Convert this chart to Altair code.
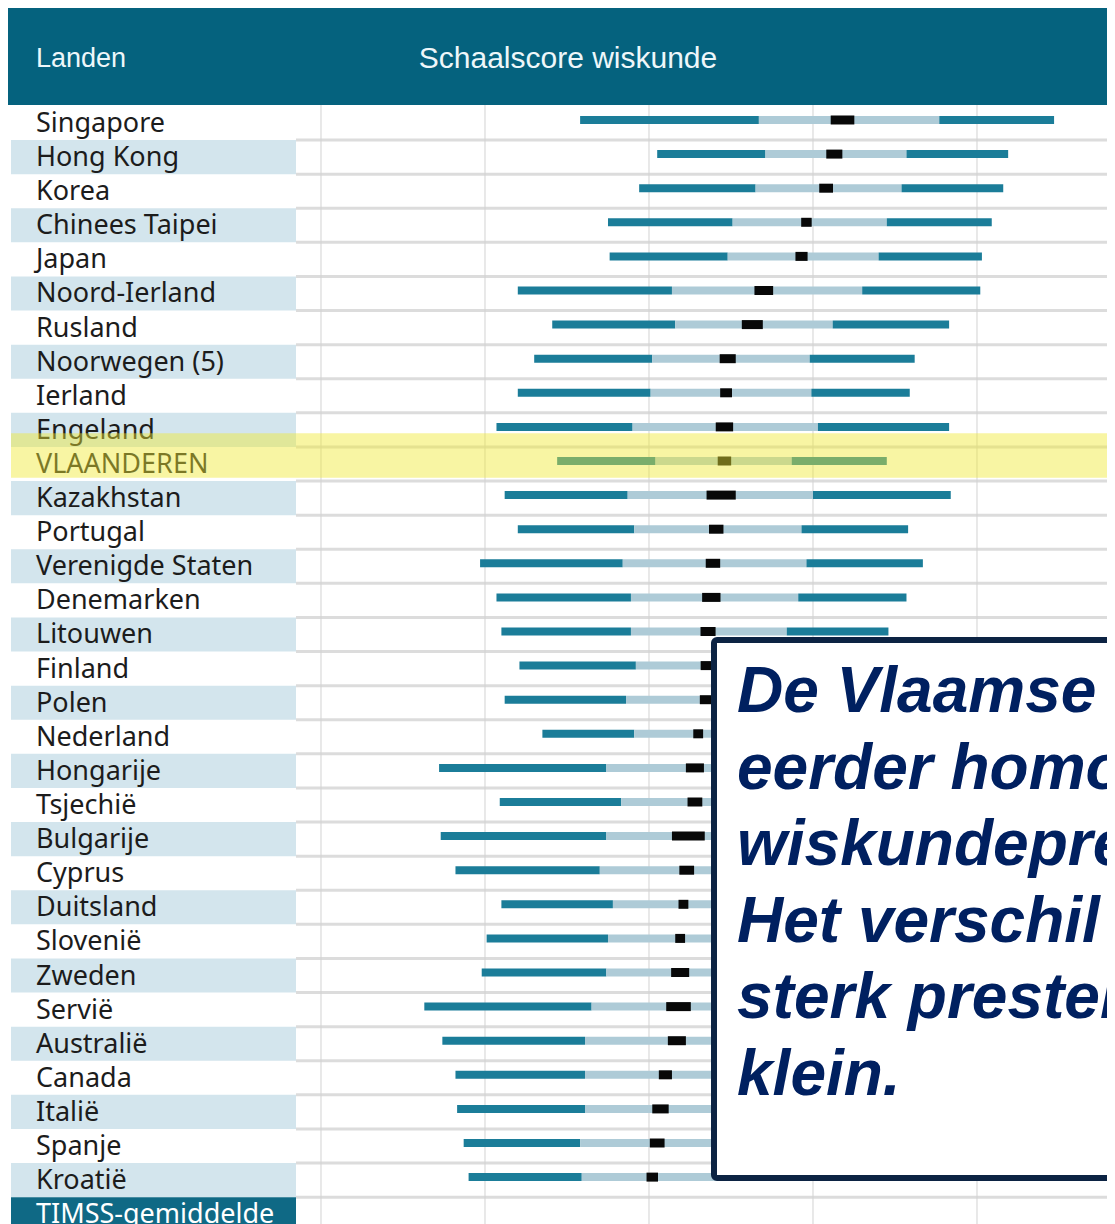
import altair as alt
import pandas as pd

# ---------------- data ----------------
countries = ["Singapore", "Hong Kong", "Korea", "Chinees Taipei", "Japan",
             "Noord-Ierland", "Rusland", "Noorwegen (5)", "Ierland", "Engeland",
             "VLAANDEREN", "Kazakhstan", "Portugal", "Verenigde Staten",
             "Denemarken", "Litouwen", "Finland", "Polen", "Nederland",
             "Hongarije", "Tsjechië", "Bulgarije", "Cyprus", "Duitsland",
             "Slovenië", "Zweden", "Servië", "Australië", "Canada", "Italië",
             "Spanje", "Kroatië", "TIMSS-gemiddelde"]

# percentiles 5 / 25 / 75 / 95, mean and half-width of its confidence interval
p5 = [458, 505, 494, 475, 476, 420, 441, 430, 420, 407, 444, 412, 420, 397,
      407, 410, 421, 412, 435, 372, 409, 373, 382, 410, 401, 398, 363, 374,
      382, 383, 387, 390]
p25 = [567, 571, 565, 551, 548, 514, 516, 502, 501, 490, 504, 487, 491, 484,
       489, 489, 492, 486, 491, 474, 483, 474, 470, 478, 475, 474, 465, 461,
       461, 461, 458, 459]
mean = [618, 613, 608, 596, 593, 570, 563, 548, 547, 546, 546, 544, 541, 539,
        538, 536, 535, 535, 530, 528, 528, 524, 523, 521, 519, 519, 518, 517,
        510, 507, 505, 502]
ci = [7.2, 4.9, 4.2, 3.2, 3.7, 5.7, 6.4, 4.9, 3.6, 5.3, 4.1, 8.9, 4.4, 4.4,
      5.6, 4.6, 3.5, 4.0, 3.0, 5.5, 4.5, 10.0, 4.5, 3.0, 3.0, 5.5, 7.5, 5.5,
      4.0, 5.0, 4.5, 3.5]
p75 = [677, 657, 654, 645, 640, 630, 612, 598, 599, 603, 587, 600, 593, 596,
       591, 584, 580, 585, 570, 588, 575, 580, 578, 568, 567, 565, 575, 575,
       560, 553, 553, 547]
p95 = [747, 719, 716, 709, 703, 702, 683, 662, 659, 683, 645, 684, 658, 667,
       657, 646, 640, 648, 620, 655, 635, 640, 642, 625, 628, 628, 642, 648,
       620, 612, 610, 603]

gridlines = [300, 400, 500, 600, 700]
highlight = "VLAANDEREN"
average_row = "TIMSS-gemiddelde"

header_left = "Landen"
header_title = "Schaalscore wiskunde"
note_lines = ["De Vlaamse leerlingen scoren",
              "eerder homogeen qua",
              "wiskundeprestaties.",
              "Het verschil tussen zwak en",
              "sterk presterende leerlingen is",
              "klein."]

# ---------------- tables ----------------
n = len(countries)
rows = pd.DataFrame({"land": countries, "row": list(range(n))})
rows["y0"] = rows["row"] - 0.5
rows["y1"] = rows["row"] + 0.5
rows["kind"] = ["avg" if c == average_row else ("odd" if i % 2 else "even")
                for i, c in enumerate(countries)]

nb = len(p5)
bars = pd.DataFrame({"land": countries[:nb], "row": list(range(nb)),
                     "p5": p5, "p25": p25, "p75": p75, "p95": p95,
                     "mean": mean, "ci": ci})
bars["lo"] = bars["mean"] - bars["ci"]
bars["hi"] = bars["mean"] + bars["ci"]

seps = pd.DataFrame({"s": [i + 0.5 for i in range(n - 1)]})
grid = pd.DataFrame({"g": gridlines})
hl_row = countries.index(highlight)
hl = pd.DataFrame({"a": [hl_row - 0.9], "b": [hl_row + 0.4]})
one = pd.DataFrame({"k": [0]})

W, H = 1099, 1216
xs = alt.Scale(domain=[109.15, 779.27], nice=False, zero=False)
ys = alt.Scale(domain=[-3.372, 32.287], reverse=True, nice=False, zero=False)


def X(f):
    return alt.X(f, type="quantitative", scale=xs, axis=None)


def Y(f):
    return alt.Y(f, type="quantitative", scale=ys, axis=None)


TEAL = "#1b7d99"
LIGHT = "#aecbd7"

label_bg = alt.Chart(rows).transform_filter("datum.kind != 'even'").mark_rect().encode(
    x=alt.value(3), x2=alt.value(288), y=Y("y0"), y2="y1",
    color=alt.Color("kind:N", scale=alt.Scale(domain=["odd", "avg"],
                                               range=["#d3e5ed", "#0f6985"]),
                    legend=None))

sep_layer = alt.Chart(seps).mark_rule(color="#dcdcdc", strokeWidth=3).encode(
    x=alt.value(288), x2=alt.value(W), y=Y("s"))

grid_layer = alt.Chart(grid).mark_rule(color="#d2d2d2", strokeWidth=1).encode(
    x=X("g"), y=alt.value(94), y2=alt.value(H))

header = alt.Chart(one).mark_rect(color="#05627e").encode(
    x=alt.value(0), x2=alt.value(W), y=alt.value(0), y2=alt.value(97))

head_txt1 = alt.Chart(one).mark_text(
    align="left", baseline="middle", font="Liberation Sans", fontSize=27,
    color="#eef7fa").encode(x=alt.value(28), y=alt.value(51),
                            text=alt.value(header_left))
head_txt2 = alt.Chart(one).mark_text(
    align="center", baseline="middle", font="Liberation Sans", fontSize=30,
    color="#eef7fa").encode(x=alt.value(560), y=alt.value(51),
                            text=alt.value(header_title))

seg_low = alt.Chart(bars).mark_rule(color=TEAL, strokeWidth=8, yOffset=-3).encode(
    x=X("p5"), x2="p25", y=Y("row"))
seg_mid = alt.Chart(bars).mark_rule(color=LIGHT, strokeWidth=8, yOffset=-3).encode(
    x=X("p25"), x2="p75", y=Y("row"))
seg_high = alt.Chart(bars).mark_rule(color=TEAL, strokeWidth=8, yOffset=-3).encode(
    x=X("p75"), x2="p95", y=Y("row"))
mean_box = alt.Chart(bars).mark_rule(color="#080808", strokeWidth=9, yOffset=-3).encode(
    x=X("lo"), x2="hi", y=Y("row"))

labels = alt.Chart(rows).mark_text(
    align="left", baseline="middle", font="Noto Sans", fontSize=27, dy=1).encode(
    x=alt.value(28), y=Y("row"), text="land:N",
    color=alt.condition("datum.kind == 'avg'", alt.value("white"), alt.value("#1c1c1c")))

yellow = alt.Chart(hl).mark_rect(color="#efe833", opacity=0.45).encode(
    x=alt.value(3), x2=alt.value(W), y=Y("a"), y2="b")

box = alt.Chart(one).mark_rect(fill="white", stroke="#0c2343", strokeWidth=6,
                               cornerRadius=3).encode(
    x=alt.value(706), x2=alt.value(1106), y=alt.value(632), y2=alt.value(1170))

note_layers = [
    alt.Chart(one).mark_text(align="left", baseline="alphabetic",
                             font="Liberation Sans", fontStyle="italic",
                             fontWeight="bold", fontSize=64, color="#002060",
                             clip=True).encode(
        x=alt.value(729), y=alt.value(704 + 76.5 * k), text=alt.value(line))
    for k, line in enumerate(note_lines)
]

chart = alt.layer(
    label_bg, sep_layer, grid_layer, header, head_txt1, head_txt2,
    seg_low, seg_mid, seg_high, mean_box, labels, yellow, box, *note_layers
).properties(
    width=W, height=H, padding=0,
    autosize=alt.AutoSizeParams(type="none"), background="white"
).configure_view(stroke=None)

chart.save("out.html", embed_options={"renderer": "svg", "actions": False})
